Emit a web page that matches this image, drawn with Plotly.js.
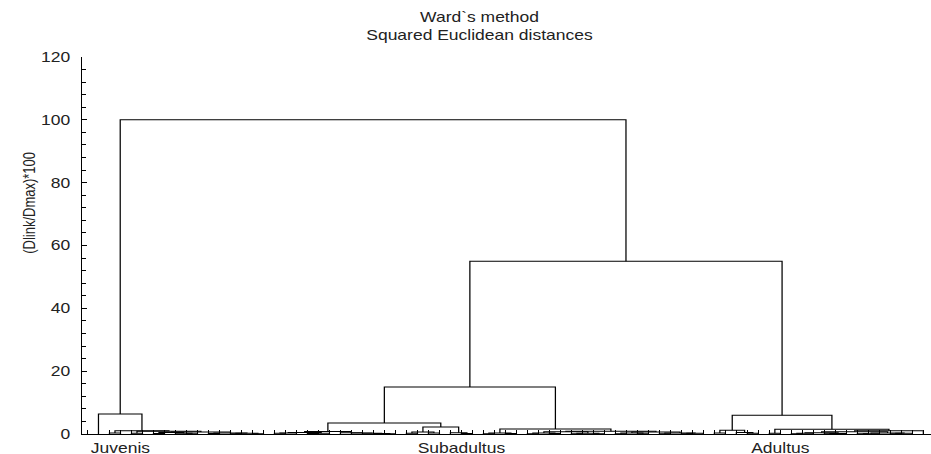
<!DOCTYPE html>
<html><head><meta charset="utf-8">
<script src="https://cdn.plot.ly/plotly-3.0.1.min.js"></script>
<style>
html,body{margin:0;padding:0;background:#fff;overflow:hidden}
#wrap{width:931px;height:454px;overflow:hidden}
#chart{width:745px;height:454px;transform:scaleX(1.2497);transform-origin:0 0}
</style></head>
<body><div id="wrap"><div id="chart"></div></div>
<script>
// Dendrogram data (Ward's method): leaves 1..76; positive = leaf number, negative = -(merge number)
const leafCount = 76;
const linkLeft = [2,4,6,9,8,-3,11,13,15,-8,-7,-6,-2,-1,1,17,-16,20,-18,-17,27,26,25,24,23,-20,29,31,-27,34,33,-29,-26,36,38,-34,40,42,-37,44,46,-40,-39,48,50,-44,52,54,-48,-47,-46,-43,-36,-33,57,60,59,-55,62,64,-60,67,-62,-61,70,-65,73,-67,-66,-64,-70,-59,-58,-54,-15];
const linkRight = [3,5,7,10,-4,-5,12,14,16,-9,-10,-11,-12,-13,-14,18,19,21,22,-19,28,-21,-22,-23,-24,-25,30,32,-28,35,-30,-31,-32,37,39,-35,41,43,-38,45,47,-41,-42,49,51,-45,53,55,56,-49,-50,-51,-52,-53,58,61,-56,-57,63,65,66,68,69,-63,71,72,74,75,-68,-69,76,-71,-72,-73,-74];
const linkHeight = [0.3,0.2,0.15,0.1,0.25,0.45,0.12,0.1,0.08,0.2,0.35,0.6,0.85,1.0,6.4,0.2,0.3,0.15,0.25,0.5,0.1,0.15,0.2,0.3,0.4,0.8,0.2,0.3,0.6,0.15,0.4,2.2,3.5,0.1,0.15,0.3,0.1,0.12,0.3,0.05,0.08,0.2,0.7,0.1,0.1,0.3,0.05,0.1,0.2,0.3,0.6,0.9,1.6,15,0.3,0.2,0.5,1.2,0.2,0.1,0.2,0.1,0.15,0.4,0.05,0.1,0.1,0.2,0.3,0.7,1.0,1.5,6.0,55,100];
const labelLeaves = [3, 34, 63];
const labelText = ['Juvenis', 'Subadultus', 'Adultus'];
const yTickVals = [0, 20, 40, 60, 80, 100, 120];

const mPos = [], mH = [];
function pos(id){ return id > 0 ? id : mPos[-id-1]; }
function hgt(id){ return id > 0 ? 0 : mH[-id-1]; }
const xs = [], ys = [];
for (let i = 0; i < linkHeight.length; i++) {
  const a = linkLeft[i], b = linkRight[i], h = linkHeight[i];
  const xa = pos(a), xb = pos(b);
  xs.push(xa, xa, xb, xb, null);
  ys.push(hgt(a), h, h, hgt(b), null);
  mPos.push((xa + xb) / 2); mH.push(h);
}

const txt = '#222';
const font = {family: 'Liberation Sans, Arial, sans-serif', size: 14, color: txt};
const data = [{
  type: 'scatter', mode: 'lines', x: xs, y: ys, connectgaps: false,
  line: {color: '#000', width: 1}, hoverinfo: 'skip', cliponaxis: false
}];
const layout = {
  width: 745, height: 454,
  margin: {l: 66, r: 0, t: 57, b: 20, pad: 0},
  paper_bgcolor: '#fff', plot_bgcolor: '#fff',
  showlegend: false,
  font: font,
  title: {text: 'Ward`s method<br>Squared Euclidean distances', xref: 'container', x: 0.515, xanchor: 'center',
          yref: 'container', y: 0.951, yanchor: 'top', font: {family: font.family, size: 14, color: txt}},
  xaxis: {range: [-0.4545, 76.7], showline: true, linecolor: '#000', linewidth: 1, mirror: false,
          showgrid: false, zeroline: false, tickmode: 'array', tickvals: labelLeaves, ticktext: labelText,
          ticks: 'inside', ticklen: 4, tickcolor: '#000', tickfont: font, ticklabelstandoff: 1,
          minor: {tickmode: 'linear', tick0: 1, dtick: 1, ticks: 'inside', ticklen: 4, tickcolor: '#000', showgrid: false}},
  yaxis: {range: [0, 120], showline: true, linecolor: '#000', linewidth: 1, showgrid: false, zeroline: false,
          tickmode: 'array', tickvals: yTickVals, ticks: 'inside', ticklen: 4, tickcolor: '#000', tickfont: font,
          ticklabelstandoff: 6,
          minor: {tickmode: 'linear', tick0: 0, dtick: 4, ticks: 'inside', ticklen: 3, tickcolor: '#000', showgrid: false}},
  annotations: [{text: '(Dlink/Dmax)*100', xref: 'paper', yref: 'paper', x: -0.062, y: 0.613,
                 xanchor: 'center', yanchor: 'middle', textangle: -90, showarrow: false,
                 font: {family: font.family, size: 13, color: txt}}]
};
Plotly.newPlot('chart', data, layout, {displayModeBar: false, staticPlot: true});
</script>
</body></html>
